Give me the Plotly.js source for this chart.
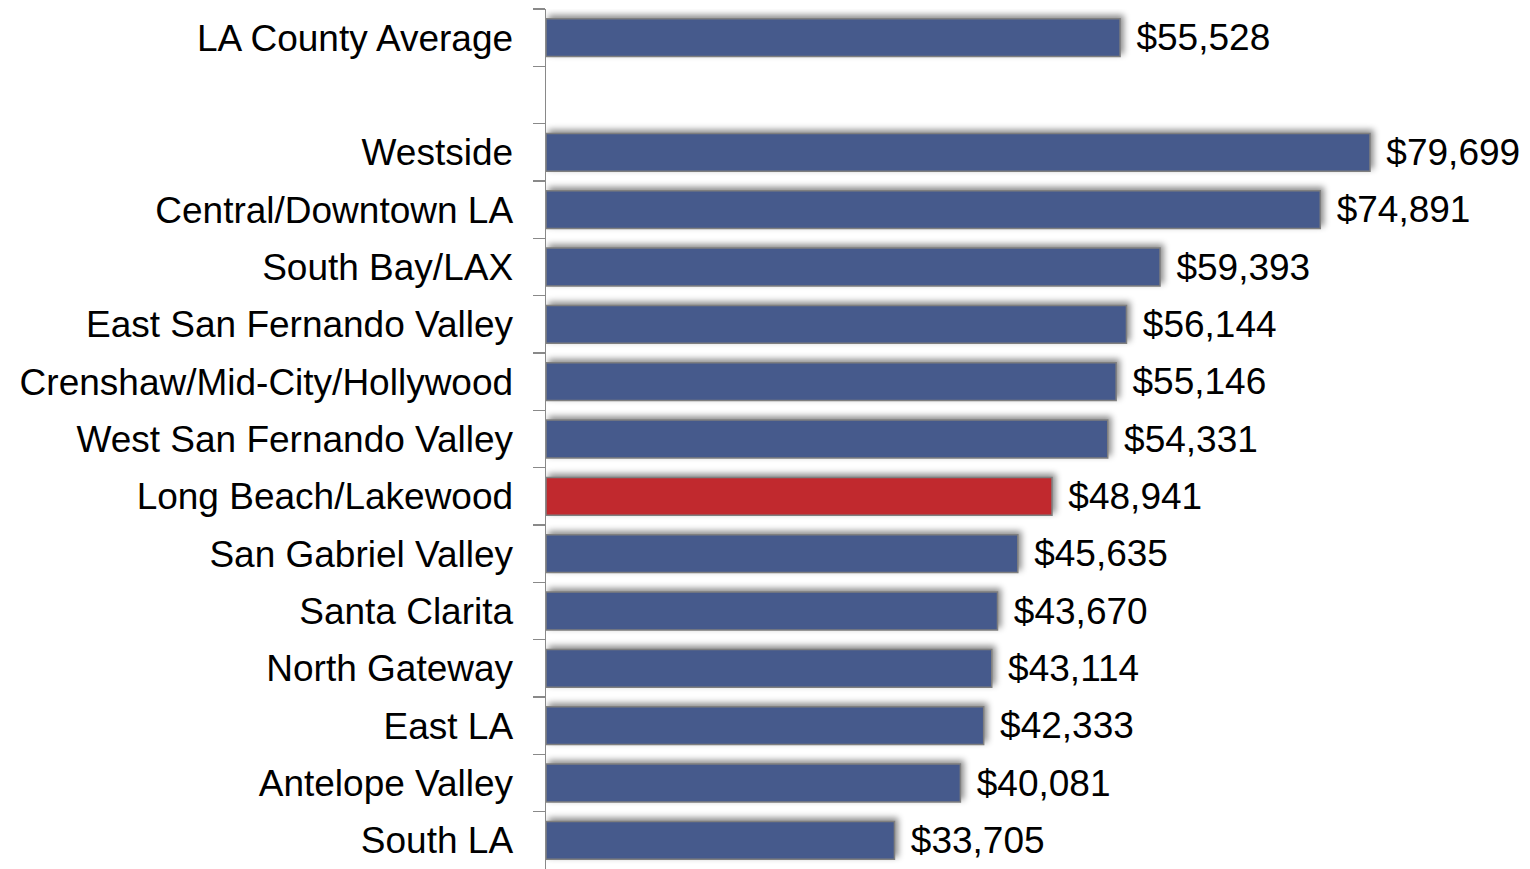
<!DOCTYPE html>
<html>
<head>
<meta charset="utf-8">
<script src="https://cdn.plot.ly/plotly-3.0.1.min.js"></script>
<style>
html, body { margin: 0; padding: 0; background: #fff; }
#chart { width: 1530px; height: 869px; }
.bars .point path { filter: drop-shadow(3px -3px 3px rgba(0,0,0,0.45)); }
</style>
</head>
<body>
<div id="chart"></div>
<script>
const regions = ['LA County Average', ' ', 'Westside', 'Central/Downtown LA', 'South Bay/LAX',
  'East San Fernando Valley', 'Crenshaw/Mid-City/Hollywood', 'West San Fernando Valley',
  'Long Beach/Lakewood', 'San Gabriel Valley', 'Santa Clarita', 'North Gateway', 'East LA',
  'Antelope Valley', 'South LA'];
const incomes = [55528, null, 79699, 74891, 59393, 56144, 55146, 54331, 48941, 45635, 43670,
  43114, 42333, 40081, 33705];
const highlighted = 'Long Beach/Lakewood';

const blue = '#465a8c';
const red = '#c1292e';
const barColors = regions.map(r => r === highlighted ? red : blue);
const fontFamily = 'Liberation Sans, Arial, sans-serif';

const trace = {
  type: 'bar',
  orientation: 'h',
  y: regions,
  x: incomes,
  width: 0.66,
  marker: { color: barColors, line: { color: '#7f7f7f', width: 1.5 } },
  texttemplate: '\u00a0\u200a$%{x:,}',
  textposition: 'outside',
  constraintext: 'none',
  cliponaxis: false,
  textfont: { family: fontFamily, size: 37, color: '#000' },
  hoverinfo: 'none'
};

const layout = {
  width: 1530,
  height: 869,
  margin: { l: 546, r: 0, t: 9, b: 0 },
  paper_bgcolor: '#fff',
  plot_bgcolor: '#fff',
  showlegend: false,
  font: { family: fontFamily, size: 37, color: '#000' },
  xaxis: {
    range: [0, 95174],
    visible: false,
    showgrid: false,
    zeroline: false
  },
  yaxis: {
    type: 'category',
    autorange: 'reversed',
    showline: true,
    linecolor: '#898989',
    linewidth: 1.5,
    ticks: 'outside',
    tickson: 'boundaries',
    ticklen: 12,
    tickcolor: '#898989',
    tickwidth: 1.5,
    ticklabelstandoff: 24,
    showgrid: false,
    zeroline: false,
    automargin: false,
    tickfont: { family: fontFamily, size: 37, color: '#000' }
  }
};

Plotly.newPlot('chart', [trace], layout, { displayModeBar: false, staticPlot: true });
</script>
</body>
</html>
